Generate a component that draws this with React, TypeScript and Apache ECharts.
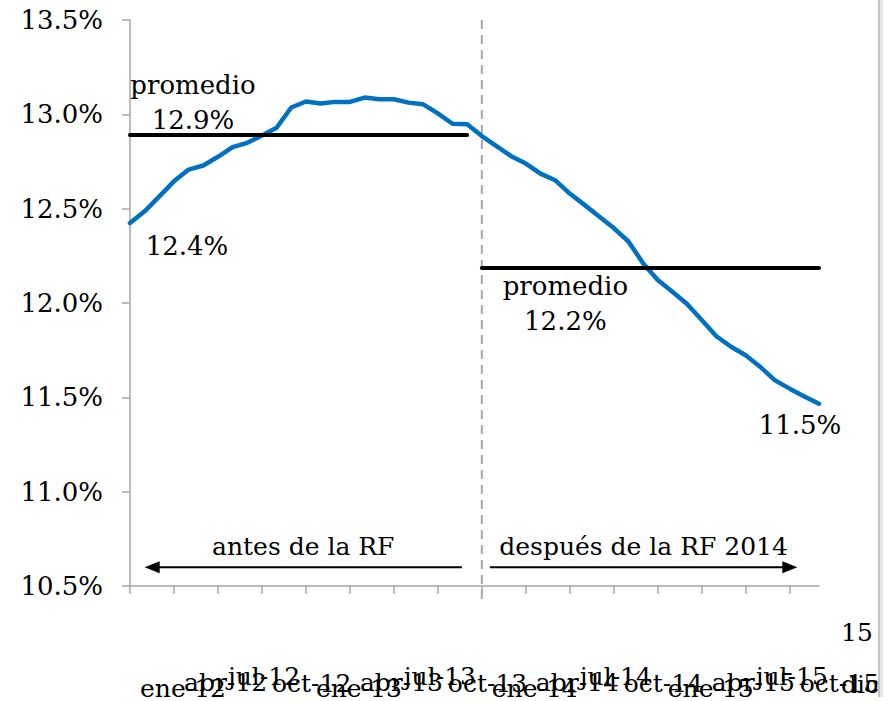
import React, { useEffect, useRef } from "react";
import * as echarts from "echarts";

const MONTHS = ["ene", "feb", "mar", "abr", "may", "jun", "jul", "ago", "sep", "oct", "nov", "dic"];
const YEARS = ["12", "13", "14", "15"];
const CATEGORIES = YEARS.flatMap((y) => MONTHS.map((m) => `${m}-${y}`));

// Tasa (%), ene-12 .. dic-15
const RATE = [
  12.424, 12.486, 12.565, 12.645, 12.707, 12.729, 12.775, 12.826, 12.849, 12.888, 12.929, 13.036,
  13.068, 13.057, 13.066, 13.066, 13.089, 13.08, 13.08, 13.062, 13.053, 13.005, 12.95, 12.947,
  12.885, 12.831, 12.778, 12.739, 12.686, 12.651, 12.58, 12.52, 12.459, 12.397, 12.326, 12.211,
  12.122, 12.06, 11.995, 11.91, 11.824, 11.768, 11.723, 11.661, 11.59, 11.546, 11.505, 11.466,
];

const AVG_BEFORE = 12.894;
const AVG_AFTER = 12.186;
const REFORM_INDEX = 24; // ene-14
const Y_MIN = 10.5;
const Y_MAX = 13.5;
const Y_INTERVAL = 0.5;

const TEXT_PROMEDIO = "promedio";
const TEXT_BEFORE = "antes de la RF";
const TEXT_AFTER = "después de la RF 2014";

const FONT = '"DejaVu Serif", serif';
const BLUE = "#0070C0";
const GRAY = "#a6a6a6";

// month labels shown (every quarter + last), with their vertical stagger (px)
const LABEL_MONTHS = ["ene", "abr", "jul", "oct"];
const STAGGER: Record<string, number> = { ene: 56, abr: 50, jul: 44, oct: 51 };

const pct = (v: number) => v.toFixed(1) + "%";

export default function App() {
  const ref = useRef<HTMLDivElement>(null);

  useEffect(() => {
    if (!ref.current) return;
    const chart = echarts.init(ref.current, undefined, { renderer: "svg" });
    const last = CATEGORIES.length - 1;
    const quarterTicks = CATEGORIES.map((_, i) => i).filter((i) => i % 3 === 0);

    const rich: Record<string, any> = {
      t: { fontSize: 25, fontFamily: FONT, color: "#000", lineHeight: 30 },
      d: { fontSize: 25, fontFamily: FONT, color: "#000", lineHeight: 30, padding: [0, 0, 0, 12] },
      s22: { fontSize: 1, lineHeight: 22 },
    };
    Object.values(STAGGER).forEach((h) => {
      rich["s" + h] = { fontSize: 1, lineHeight: h };
    });

    const gridBox = { left: 130, right: 72, top: 20, bottom: 115, containLabel: false };
    const labelBase = {
      align: "left",
      margin: 31,
      padding: [0, 0, 0, 10],
      rich,
      hideOverlap: false,
    };

    // one label "layer" per month kind, plus the final month
    const layers = [...LABEL_MONTHS, "last"];
    const grids = layers.map(() => ({ ...gridBox }));
    const xAxes = layers.map((kind, k) => ({
      type: "category",
      gridIndex: k,
      data: CATEGORIES,
      boundaryGap: false,
      axisLine: { show: k === 0, lineStyle: { color: GRAY, width: 1.5 } },
      axisTick: {
        show: k === 0,
        interval: 2,
        customValues: quarterTicks,
        length: 8,
        lineStyle: { color: GRAY, width: 1.5 },
      },
      splitLine: { show: false },
      axisLabel: {
        ...labelBase,
        interval: (i: number) =>
          kind === "last" ? i === last : i !== last && CATEGORIES[i].startsWith(kind + "-"),
        formatter: (value: string) => {
          const [m, y] = value.split("-");
          if (kind === "last") return `{d|${y}}\n{s22| }\n{d|${m}-}`;
          return `{s${STAGGER[m]}| }\n{t|${value}}`;
        },
      },
    }));
    const yAxes = layers.map((_, k) =>
      k === 0
        ? {
            type: "value",
            gridIndex: 0,
            min: Y_MIN,
            max: Y_MAX,
            interval: Y_INTERVAL,
            axisLine: { show: true, lineStyle: { color: GRAY, width: 1.5 } },
            axisTick: { show: true, length: 8, lineStyle: { color: GRAY, width: 1.5 } },
            splitLine: { show: false },
            axisLabel: {
              margin: 27,
              fontSize: 26,
              fontFamily: FONT,
              color: "#000",
              formatter: (v: number) => pct(v),
            },
          }
        : { type: "value", gridIndex: k, show: false, min: Y_MIN, max: Y_MAX }
    );

    chart.setOption({
      animation: false,
      grid: grids,
      xAxis: xAxes,
      yAxis: yAxes,
      series: [
        {
          type: "line",
          xAxisIndex: 0,
          yAxisIndex: 0,
          data: RATE,
          symbol: "none",
          lineStyle: { color: BLUE, width: 4.5, join: "round", cap: "round" },
          z: 2,
          markLine: {
            silent: true,
            symbol: ["none", "none"],
            label: { show: false },
            z: 3,
            lineStyle: { color: "#000", width: 4, type: "solid", cap: "round" },
            data: [
              [{ coord: [0, AVG_BEFORE] }, { coord: [REFORM_INDEX - 1, AVG_BEFORE] }],
              [{ coord: [REFORM_INDEX, AVG_AFTER] }, { coord: [last, AVG_AFTER] }],
            ],
          },
        },
      ],
    });

    const P = (i: number, v: number) => chart.convertToPixel({ gridIndex: 0 }, [i, v]) as number[];
    const x0 = P(0, Y_MIN)[0];
    const step = P(1, Y_MIN)[0] - x0;
    const X = (i: number) => x0 + i * step;
    const Y = (v: number) => P(0, v)[1];

    const xd = X(REFORM_INDEX);
    const yTop = Y(Y_MAX);
    const yBot = Y(Y_MIN);
    const yArrow = Y(10.6);
    const yArrowText = yArrow - 21;

    const txt = (text: string, x: number, y: number, size = 26) => ({
      type: "text",
      style: {
        text,
        x,
        y,
        fill: "#000",
        fontSize: size,
        fontFamily: FONT,
        align: "center",
        verticalAlign: "middle",
      },
      z: 10,
    });

    const leftTip = X(1);
    const rightTip = X(last - 1) - 7;

    chart.setOption({
      graphic: [
        {
          type: "line",
          shape: { x1: xd, y1: yTop, x2: xd, y2: yBot + 18 },
          style: { stroke: GRAY, lineWidth: 2, lineDash: [9, 6] },
          z: 1,
        },
        // arrows
        {
          type: "line",
          shape: { x1: xd - 20, y1: yArrow, x2: leftTip + 10, y2: yArrow },
          style: { stroke: "#000", lineWidth: 2 },
        },
        {
          type: "polygon",
          shape: { points: [[leftTip, yArrow], [leftTip + 15, yArrow - 6], [leftTip + 15, yArrow + 6]] },
          style: { fill: "#000" },
        },
        {
          type: "line",
          shape: { x1: xd + 8, y1: yArrow, x2: rightTip - 10, y2: yArrow },
          style: { stroke: "#000", lineWidth: 2 },
        },
        {
          type: "polygon",
          shape: { points: [[rightTip, yArrow], [rightTip - 15, yArrow - 6], [rightTip - 15, yArrow + 6]] },
          style: { fill: "#000" },
        },
        txt(TEXT_BEFORE, (leftTip + xd - 20) / 2, yArrowText, 25),
        txt(TEXT_AFTER, (xd + 8 + rightTip) / 2, yArrowText, 25),
        // averages & endpoints
        txt(TEXT_PROMEDIO, X(4.3), Y(AVG_BEFORE) - 49),
        txt(pct(AVG_BEFORE), X(4.3), Y(AVG_BEFORE) - 14),
        txt(pct(RATE[0]), X(0) + 57, Y(RATE[0]) + 23),
        txt(TEXT_PROMEDIO, X(29.7), Y(AVG_AFTER) + 18),
        txt(pct(AVG_AFTER), X(29.7), Y(AVG_AFTER) + 53),
        txt(pct(RATE[last]), X(last) - 19, Y(RATE[last]) + 21),
        // right frame edge
        { type: "rect", shape: { x: 878, y: 0, width: 2, height: 697 }, style: { fill: "#c4c4c4" }, z: 20 },
        { type: "rect", shape: { x: 880, y: 0, width: 3, height: 697 }, style: { fill: "#e6e6e6" }, z: 20 },
        { type: "rect", shape: { x: 883, y: 0, width: 8, height: 701 }, style: { fill: "#ffffff" }, z: 20 },
      ],
    });

    return () => chart.dispose();
  }, []);

  return (
    <div
      ref={ref}
      style={{ position: "fixed", left: 0, top: 0, width: 891, height: 701, background: "#fff" }}
    />
  );
}
